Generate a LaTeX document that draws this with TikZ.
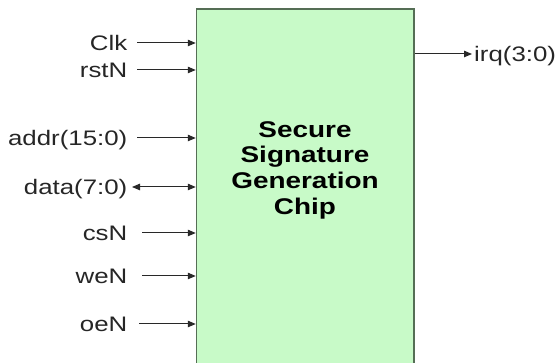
\documentclass[tikz,border=0pt]{standalone}
\usepackage{fontspec}
\setmainfont{Liberation Sans}[FakeStretch=1.23]
\usetikzlibrary{arrows.meta}
\definecolor{chipfill}{RGB}{200,250,200}
\definecolor{chipdraw}{RGB}{85,110,85}
\definecolor{wire}{RGB}{40,40,40}
\tikzset{
  sig/.style={draw=wire, line width=1pt, -{Triangle[length=8pt,width=6.5pt]}},
  bisig/.style={draw=wire, line width=1pt, {Triangle[length=8pt,width=6.5pt]}-{Triangle[length=8pt,width=6.5pt]}},
  lab/.style={inner sep=0pt, font=\fontsize{21}{25}\selectfont, text=black!85},
  chipbox/.style={draw=chipdraw, fill=chipfill, line width=1.5pt, inner sep=0pt}
}
\begin{document}
\begin{tikzpicture}[x=1pt,y=1pt]
\useasboundingbox (0,0) rectangle (560,363);
\clip (0,0) rectangle (560,363);
\fill[white] (0,0) rectangle (560,363);
\node[chipbox, minimum width=217.5pt, minimum height=362pt] (chip) at (305.25,173) {};
\node[inner sep=0pt, anchor=north, align=center,
      font=\fontsize{22.7}{25.7}\selectfont\bfseries] (title) at (305,242)
  {Secure\\Signature\\Generation\\Chip};
% input coordinates
\coordinate (clk) at (137,320);
\coordinate (rst) at (137,293);
\coordinate (addr) at (137,225);
\coordinate (data) at (132,176);
\coordinate (cs) at (142,130);
\coordinate (we) at (142,87);
\coordinate (oe) at (139,39);
\coordinate (irqs) at (414,309);
\coordinate (irqe) at (472,309);
% labels
\node[lab, anchor=base east] (lclk) at (127.5,312.5) {Clk};
\node[lab, anchor=base east] (lrst) at (127.5,285.5) {rstN};
\node[lab, anchor=base east] (laddr) at (127.5,217.5) {addr(15:0)};
\node[lab, anchor=base east] (ldata) at (127.5,168.5) {data(7:0)};
\node[lab, anchor=base east] (lcs) at (127.5,122.5) {csN};
\node[lab, anchor=base east] (lwe) at (127.5,79.5) {weN};
\node[lab, anchor=base east] (loe) at (127.5,31.5) {oeN};
\node[lab, anchor=base west] (lirq) at (474,301.5) {irq(3:0)};
% wires
\draw[sig] (clk) -- (clk -| chip.west);
\draw[sig] (rst) -- (rst -| chip.west);
\draw[sig] (addr) -- (addr -| chip.west);
\draw[bisig] (data) -- (data -| chip.west);
\draw[sig] (cs) -- (cs -| chip.west);
\draw[sig] (we) -- (we -| chip.west);
\draw[sig] (oe) -- (oe -| chip.west);
\draw[sig] (irqs -| chip.east) -- (irqe);
\end{tikzpicture}
\end{document}
